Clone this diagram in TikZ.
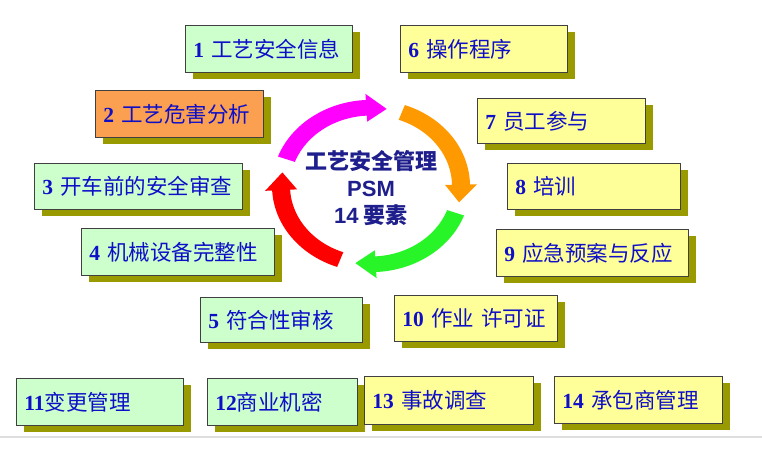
\documentclass[tikz,border=0pt]{standalone}
\usepackage{fontspec}
\setmainfont{Liberation Serif}
\newfontfamily\cjk{Noto Sans CJK SC}
\newfontfamily\sansb{Liberation Sans}
\usetikzlibrary{shadows}
\definecolor{boxgreen}{RGB}{204,255,204}
\definecolor{boxyellow}{RGB}{255,255,153}
\definecolor{boxorange}{RGB}{250,160,80}
\definecolor{shadowolive}{RGB}{153,153,0}
\definecolor{txtblue}{RGB}{15,15,200}
\definecolor{navy}{RGB}{30,30,140}
\definecolor{arrmag}{RGB}{255,0,255}
\definecolor{arrorange}{RGB}{255,153,0}
\definecolor{arrgreen}{RGB}{40,245,40}
\definecolor{arrred}{RGB}{255,0,0}
\tikzset{
  elbox/.style={draw=black!75, line width=0.8pt, anchor=north west, inner xsep=8pt,
    align=left, text=txtblue, font=\fontsize{21.5}{25}\selectfont,
    drop shadow={shadow xshift=8pt, shadow yshift=-7pt, fill=shadowolive, opacity=1}},
  greenbox/.style={elbox, fill=boxgreen},
  yellowbox/.style={elbox, fill=boxyellow},
  orangebox/.style={elbox, fill=boxorange},
}
\newcommand\elnode[7]{%
  \pgfmathsetmacro\tw{#4-16}%
  \node[#6, text width=\tw pt, minimum height=#5pt] (#1) at (#2,#3) {#7};}
\newcommand\arcarrow[5]{%
  \fill[#1] plot[domain=#2:#3, samples=40] (\x:99) -- (#3:106) -- (#4:90) -- (#3:74)
    -- plot[domain=#3:#2, samples=40] (\x:81) -- cycle;}
\begin{document}
\begin{tikzpicture}[x=1pt,y=-1pt]
\useasboundingbox (0,0) rectangle (762,471);
\fill[white] (0,0) rectangle (762,471);
\draw[black!13, line width=1.5pt] (0,437) -- (762,437);
% boxes
\elnode{b1}{185}{25}{167}{47}{greenbox}{{\bfseries 1} {\cjk 工艺安全信息}}
\elnode{b2}{95}{90}{168}{47}{orangebox}{{\bfseries 2} {\cjk 工艺危害分析}}
\elnode{b3}{34}{163}{208}{46}{greenbox}{{\bfseries 3} {\cjk 开车前的安全审查}}
\elnode{b4}{81}{228}{193}{47}{greenbox}{{\bfseries 4} {\cjk 机械设备完整性}}
\elnode{b5}{200}{297}{162}{45}{greenbox}{{\bfseries 5} {\cjk 符合性审核}}
\elnode{b6}{400}{25}{167}{47}{yellowbox}{{\bfseries 6} {\cjk 操作程序}}
\elnode{b7}{477}{98}{168}{45}{yellowbox}{{\bfseries 7} {\cjk 员工参与}}
\elnode{b8}{507}{163}{173}{46}{yellowbox}{{\bfseries 8} {\cjk 培训}}
\elnode{b9}{496}{229}{192}{47}{yellowbox}{{\bfseries 9} {\cjk 应急预案与反应}}
\elnode{b10}{394}{295}{163}{46}{yellowbox}{{\bfseries 10} {\cjk 作业 许可证}}
\elnode{b11}{16}{378}{167}{47}{greenbox}{{\bfseries 11}{\cjk 变更管理}}
\elnode{b12}{207}{378}{150}{47}{greenbox}{{\bfseries 12}{\cjk 商业机密}}
\elnode{b13}{364}{376}{169}{48}{yellowbox}{{\bfseries 13} {\cjk 事故调查}}
\elnode{b14}{554}{376}{168}{47}{yellowbox}{{\bfseries 14} {\cjk 承包商管理}}
% cycle arrows
\begin{scope}[shift={(371,186)}, x=1pt, y=0.87pt]
  \arcarrow{arrmag}{160}{93}{80}{}
  \arcarrow{arrorange}{70}{1}{-12}{}
  \arcarrow{arrgreen}{-20}{-87}{-100}{}
  \arcarrow{arrred}{-110}{-177}{-190}{}
\end{scope}
\node[align=center, text=navy, font=\fontsize{22}{27}\selectfont\bfseries] (center) at (371,188)
  {{\cjk 工艺安全管理}\\{\sansb PSM}\\{\sansb 14} {\cjk 要素}};
\end{tikzpicture}
\end{document}
